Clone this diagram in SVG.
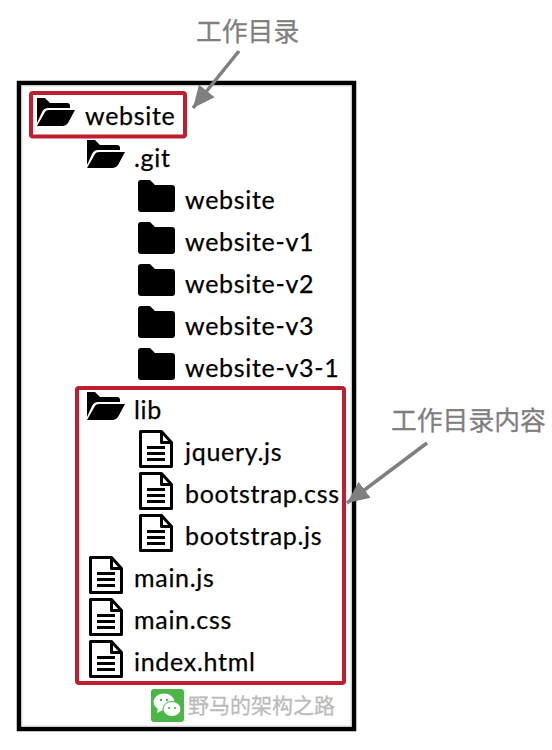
<svg xmlns="http://www.w3.org/2000/svg" width="552" height="750" viewBox="0 0 552 750">
<style>
.t{font-family:"Lato","Noto Sans",sans-serif;font-size:25px;fill:#000;letter-spacing:.7px;stroke:#000;stroke-width:.25px}
.c{font-family:"Noto Sans CJK SC","Liberation Sans",sans-serif;font-size:25.800px;fill:#7f7f7f;stroke:#7f7f7f;stroke-width:.3px}
.w{font-family:"Noto Sans CJK SC","Liberation Sans",sans-serif;font-size:21px;fill:#bbb;stroke:#bbb;stroke-width:.3px}
.r{fill:none;stroke:#be1e2d;stroke-width:4}
.a{fill:none;stroke:#7f7f7f;stroke-width:3.500}
.fl{fill:none;stroke:#000;stroke-width:3;stroke-linejoin:round}
</style>
<defs>
<symbol id="open" overflow="visible"><path d="M0 0h8l5 5h17q3 0 3 3v2h-22q-4 0-6 4l-5 11z M0 28l8-14q1-2 4-2h26l-7 13q-2 3-5 3z" fill="#000"/></symbol>
<symbol id="closed" overflow="visible"><path d="M3 0h9l5 5h17q3 0 3 3v21q0 3-3 3h-31q-3 0-3-3v-26q0-3 3-3z" fill="#000"/></symbol>
<symbol id="file" overflow="visible"><path class="fl" d="M1.500 1.500h21l10 11v24h-31z"/><path class="fl" d="M22.500 1.500v11h10"/><path d="M8 17.500h18M8 23.500h18M8 29.500h18" stroke="#000" stroke-width="2.800" fill="none"/></symbol>
<marker id="ah" markerUnits="userSpaceOnUse" markerWidth="24" markerHeight="22" refX="22" refY="11" orient="auto"><path d="M0 1L22 11L0 21z" fill="#7f7f7f"/></marker>
</defs>
<rect width="552" height="750" fill="#fff"/>
<g id="frame"><path d="M19 83H354V729H19z" fill="#fff" stroke="#000" stroke-width="4.500"/><path d="M22.500 86.500H350.500V725.500H22.500z" fill="none" stroke="#eee" stroke-width="1.500"/></g>
<g id="node-root"><rect class="r" x="31" y="93" width="154" height="43.500" rx="2"/><use href="#open" x="37" y="98"/><text class="t" x="85" y="125">website</text></g>
<g id="node-git"><use href="#open" x="87" y="140"/><text class="t" x="134" y="167">.git</text></g>
<g id="node-website"><use href="#closed" x="138" y="180"/><text class="t" x="185" y="209">website</text></g>
<g id="node-v1"><use href="#closed" x="138" y="222"/><text class="t" x="185" y="251">website-v1</text></g>
<g id="node-v2"><use href="#closed" x="138" y="264"/><text class="t" x="185" y="293">website-v2</text></g>
<g id="node-v3"><use href="#closed" x="138" y="306"/><text class="t" x="185" y="335">website-v3</text></g>
<g id="node-v31"><use href="#closed" x="138" y="348"/><text class="t" x="185" y="377">website-v3-1</text></g>
<g id="node-content"><rect class="r" x="77" y="388" width="267" height="295" rx="2"/></g>
<g id="node-lib"><use href="#open" x="87" y="392"/><text class="t" x="134" y="419">lib</text></g>
<g id="node-jquery"><use href="#file" x="139" y="430"/><text class="t" x="185" y="461">jquery.js</text></g>
<g id="node-bscss"><use href="#file" x="139" y="472"/><text class="t" x="185" y="503">bootstrap.css</text></g>
<g id="node-bsjs"><use href="#file" x="139" y="514"/><text class="t" x="185" y="545">bootstrap.js</text></g>
<g id="node-mainjs"><use href="#file" x="89" y="556"/><text class="t" x="134" y="587">main.js</text></g>
<g id="node-maincss"><use href="#file" x="89" y="598"/><text class="t" x="134" y="629">main.css</text></g>
<g id="node-index"><use href="#file" x="89" y="640"/><text class="t" x="134" y="671">index.html</text></g>
<g id="watermark"><rect x="151" y="689" width="33" height="33" rx="3" fill="#4cb648"/><ellipse cx="164" cy="702" rx="10.500" ry="8.500" fill="#fff"/><path d="M158 708l-1 5 6-3z" fill="#fff"/><ellipse cx="172" cy="709" rx="9" ry="7.500" fill="#fff" stroke="#4cb648"/><circle cx="161" cy="700" r="1.200" fill="#4cb648"/><circle cx="167" cy="700" r="1.200" fill="#4cb648"/><circle cx="169" cy="708" r="1.100" fill="#4cb648"/><circle cx="175" cy="708" r="1.100" fill="#4cb648"/><text class="w" x="188" y="713">野马的架构之路</text></g>
<g id="label-a"><text class="c" x="196" y="41">工作目录</text></g>
<g id="label-b"><text class="c" x="391" y="430">工作目录内容</text></g>
<g id="connectors"><path class="a" d="M239 51L193 108" marker-end="url(#ah)"/><path class="a" d="M427 443L347 503" marker-end="url(#ah)"/></g>
</svg>
